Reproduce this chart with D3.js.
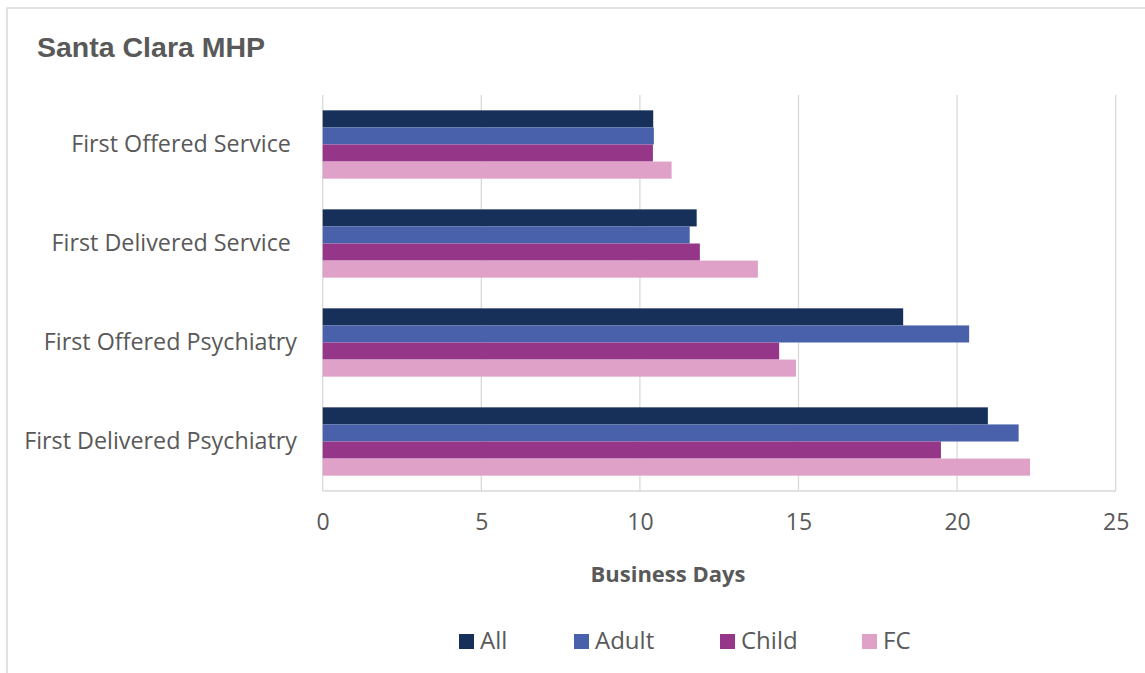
<!DOCTYPE html>
<html><head><meta charset="utf-8">
<script src="https://cdn.jsdelivr.net/npm/d3@7"></script>
<style>body{margin:0;background:#fff}svg{display:block}</style>
</head><body><svg id="c" width="1145" height="673"></svg>
<script>
const categories = ["First Offered Service ", "First Delivered Service ", "First Offered Psychiatry", "First Delivered Psychiatry"];
const seriesNames = ["All", "Adult", "Child", "FC"];
const allValues   = [10.42, 11.79, 18.30, 20.97];
const adultValues = [10.44, 11.57, 20.38, 21.94];
const childValues = [10.41, 11.89, 14.39, 19.49];
const fcValues    = [11.00, 13.72, 14.92, 22.30];
const xTicks = [0, 5, 10, 15, 20, 25];
const colors = ["#17305a", "#4961aa", "#953689", "#dfa1c8"];
const seriesValues = [allValues, adultValues, childValues, fcValues];

const svg = d3.select("#c");
const font = "'Open Sans', Lato, 'Liberation Sans', sans-serif";
const grey = "#595959";

svg.append("rect").attr("x", 7).attr("y", 8).attr("width", 1160).attr("height", 700)
  .attr("fill", "#fff").attr("stroke", "#d9d9d9").attr("stroke-width", 1.5);

svg.append("text").attr("x", 37).attr("y", 57).text("Santa Clara MHP")
  .attr("font-family", "'Liberation Sans', Arial, sans-serif").attr("font-weight", "bold")
  .attr("font-size", 28.5).attr("fill", grey);

const pLeft = 322.7, pRight = 1115.7, pTop = 95, pBottom = 491;
const x = d3.scaleLinear().domain([0, 25]).range([pLeft, pRight]);
const y = d3.scaleBand().domain(categories).range([pTop, pBottom]).paddingInner(0.31).paddingOuter(0.155);
const ySub = d3.scaleBand().domain(seriesNames).range([0, y.bandwidth()]);

// gridlines
svg.append("g").selectAll("line").data(xTicks).join("line")
  .attr("x1", d => x(d)).attr("x2", d => x(d)).attr("y1", pTop).attr("y2", pBottom)
  .attr("stroke", "#d9d9d9").attr("stroke-width", 1.3);
svg.append("line").attr("x1", pLeft).attr("x2", pRight).attr("y1", pBottom).attr("y2", pBottom)
  .attr("stroke", "#d9d9d9").attr("stroke-width", 1.3);

// bars
seriesNames.forEach((s, si) => {
  svg.append("g").selectAll("rect").data(categories).join("rect")
    .attr("x", x(0))
    .attr("y", c => y(c) + ySub(s))
    .attr("width", (c, i) => x(seriesValues[si][i]) - x(0))
    .attr("height", ySub.bandwidth())
    .attr("fill", colors[si]);
});

// x axis labels
const xAxis = d3.axisBottom(x).tickValues(xTicks).tickSize(0).tickPadding(0);
const gx = svg.append("g").attr("transform", `translate(0,${pBottom + 23})`).call(xAxis);
gx.select(".domain").remove();
gx.selectAll("text").attr("font-family", font).attr("font-size", 23).attr("fill", grey).attr("dy", "0.71em");

// y axis labels
const yAxis = d3.axisLeft(y).tickSize(0).tickPadding(0);
const gy = svg.append("g").attr("transform", `translate(297,0)`).call(yAxis);
gy.select(".domain").remove();
gy.selectAll("text").attr("font-family", font).attr("font-size", 23.3).attr("fill", grey)
  .style("white-space", "pre");

svg.append("text").attr("x", 668).attr("y", 582).attr("text-anchor", "middle")
  .text("Business Days").attr("font-family", font).attr("font-weight", "bold").attr("font-size", 22).attr("fill", grey);

// legend
const legendX = [459, 574, 720, 862];
const lg = svg.append("g").selectAll("g").data(seriesNames).join("g")
  .attr("transform", (d, i) => `translate(${legendX[i]},634)`);
lg.append("rect").attr("width", 15).attr("height", 15).attr("fill", (d, i) => colors[i]);
lg.append("text").attr("x", 21).attr("y", 15).text(d => d)
  .attr("font-family", font).attr("font-size", 24).attr("fill", grey);
</script></body></html>
